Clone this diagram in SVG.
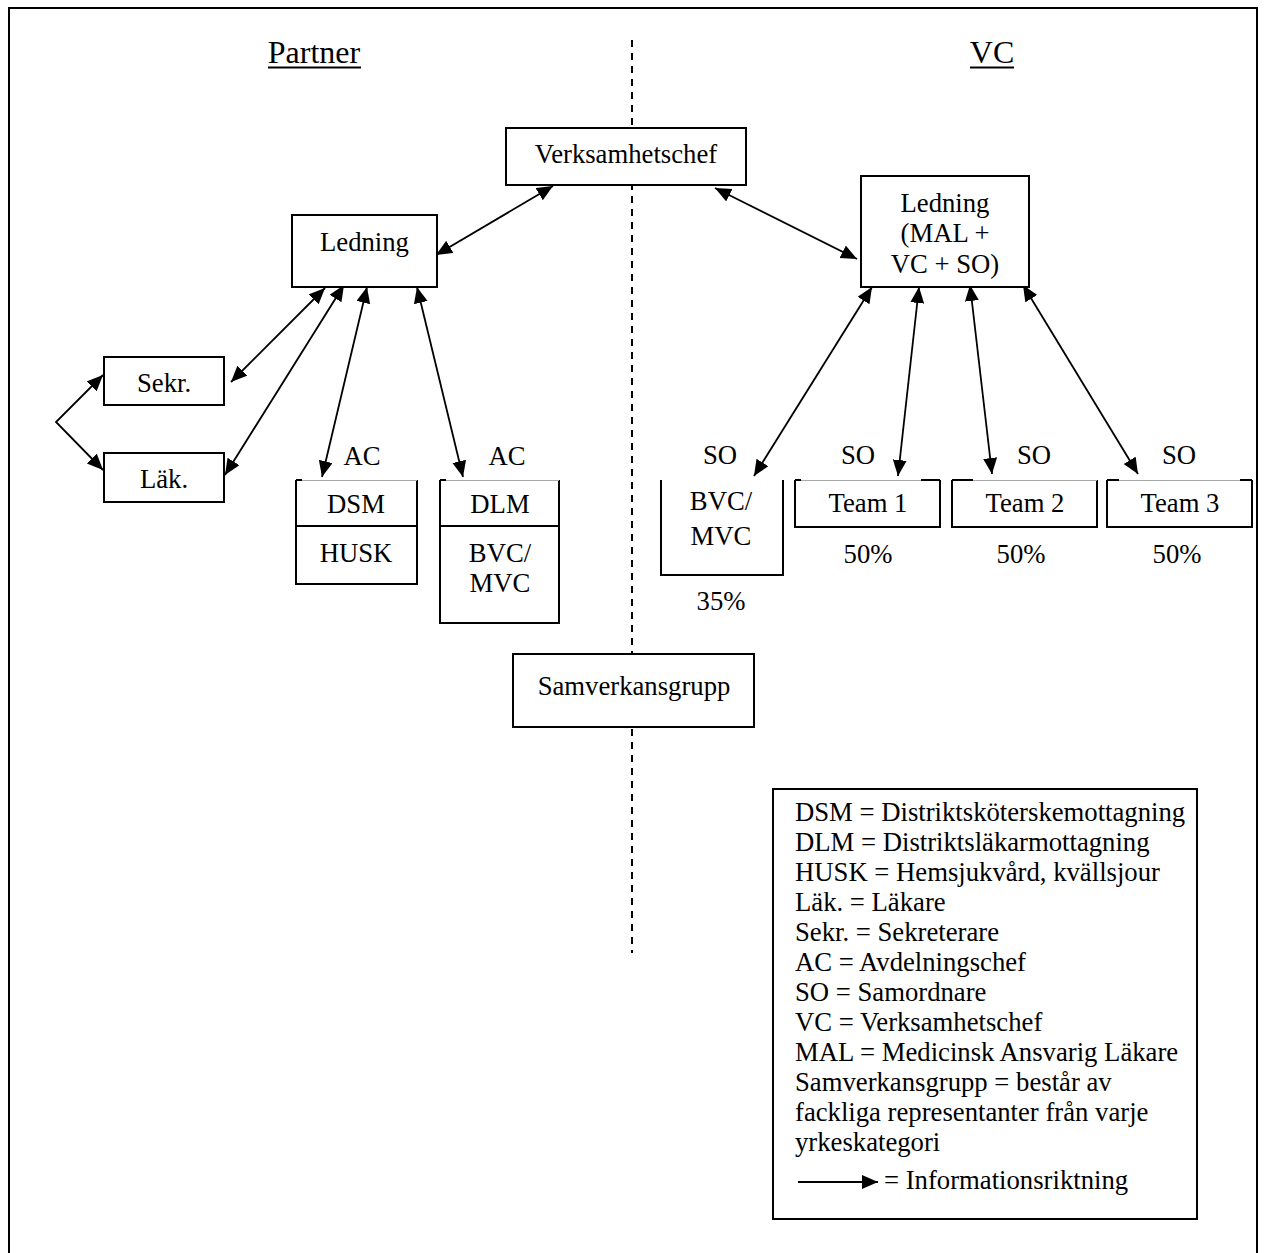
<svg xmlns="http://www.w3.org/2000/svg" width="1265" height="1253" viewBox="0 0 1265 1253">
  <style>
    text { font-family: "Liberation Serif", "Times New Roman", serif; font-size: 26.7px; fill: #000; }
    .title { font-size: 32px; }
    .c { text-anchor: middle; }
    .box { fill: #fff; stroke: #000; stroke-width: 2; }
    .open { fill: #fff; stroke: none; }
    .edge { fill: none; stroke: #000; stroke-width: 2; }
    .faint { fill: none; stroke: #a8a8a8; stroke-width: 1; }
    .link { fill: none; stroke: #000; stroke-width: 1.8; }
  </style>
  <defs>
    <marker id="head" markerUnits="userSpaceOnUse" markerWidth="17" markerHeight="15" refX="16" refY="7" orient="auto-start-reverse">
      <path d="M0,0 L16,7 L0,14 Z" fill="#000"/>
    </marker>
  </defs>

  <rect width="1265" height="1253" fill="#fff"/>

  <!-- outer frame, open at the bottom -->
  <path class="edge" d="M9,1253 V8 H1257 V1253"/>

  <!-- divider between the two sides -->
  <line x1="632" y1="40" x2="632" y2="953" stroke="#000" stroke-width="2" stroke-dasharray="7 6"/>

  <!-- side headings -->
  <g id="heading-partner">
    <text class="title c" x="314" y="63">Partner</text>
    <line x1="268" y1="67.5" x2="361" y2="67.5" stroke="#000" stroke-width="2"/>
  </g>
  <g id="heading-vc">
    <text class="title c" x="992" y="63">VC</text>
    <line x1="970" y1="67.5" x2="1014" y2="67.5" stroke="#000" stroke-width="2"/>
  </g>

  <!-- connectors -->
  <g id="connectors">
    <line class="link" x1="553" y1="186" x2="436" y2="255" marker-start="url(#head)" marker-end="url(#head)"/>
    <line class="link" x1="715" y1="188" x2="857" y2="259" marker-start="url(#head)" marker-end="url(#head)"/>
    <line class="link" x1="325" y1="288" x2="231" y2="382" marker-start="url(#head)" marker-end="url(#head)"/>
    <line class="link" x1="344" y1="285" x2="225" y2="475" marker-start="url(#head)" marker-end="url(#head)"/>
    <line class="link" x1="367" y1="287" x2="322" y2="477" marker-start="url(#head)" marker-end="url(#head)"/>
    <line class="link" x1="417" y1="287" x2="463" y2="477" marker-start="url(#head)" marker-end="url(#head)"/>
    <path class="link" d="M103,375 L56,422 L103,470" marker-start="url(#head)" marker-end="url(#head)"/>
    <line class="link" x1="872" y1="287" x2="754" y2="476" marker-start="url(#head)" marker-end="url(#head)"/>
    <line class="link" x1="919" y1="287" x2="898" y2="476" marker-start="url(#head)" marker-end="url(#head)"/>
    <line class="link" x1="970" y1="285" x2="992" y2="474" marker-start="url(#head)" marker-end="url(#head)"/>
    <line class="link" x1="1023" y1="285" x2="1138" y2="474" marker-start="url(#head)" marker-end="url(#head)"/>
  </g>

  <g id="verksamhetschef">
    <rect class="box" x="506" y="128" width="240" height="57"/>
    <text class="c" x="626" y="163">Verksamhetschef</text>
  </g>

  <g id="ledning-partner">
    <rect class="box" x="292" y="215" width="145" height="72"/>
    <text class="c" x="364.5" y="251">Ledning</text>
  </g>

  <g id="ledning-vc">
    <rect class="box" x="861" y="176" width="168" height="111"/>
    <text class="c" x="945" y="212">Ledning</text>
    <text class="c" x="945" y="242">(MAL +</text>
    <text class="c" x="945" y="273">VC + SO)</text>
  </g>

  <g id="sekr">
    <rect class="box" x="104" y="357" width="120" height="48"/>
    <text class="c" x="164" y="392">Sekr.</text>
  </g>

  <g id="lak">
    <rect class="box" x="104" y="453" width="120" height="49"/>
    <text class="c" x="164" y="488">Läk.</text>
  </g>

  <g id="dsm-husk">
    <text class="c" x="362" y="465">AC</text>
    <rect class="open" x="296" y="480" width="121" height="104"/>
    <path class="edge" d="M296,480 V584 H417 V480 M296,526 H417 M296,480 H302"/>
    <line class="faint" x1="302" y1="480.5" x2="417" y2="480.5"/>
    <text class="c" x="356" y="513">DSM</text>
    <text class="c" x="356" y="562">HUSK</text>
  </g>

  <g id="dlm-bvc">
    <text class="c" x="507" y="465">AC</text>
    <rect class="open" x="440" y="480" width="119" height="143"/>
    <path class="edge" d="M440,480 V623 H559 V480 M440,526 H559 M440,480 H446"/>
    <line class="faint" x1="446" y1="480.5" x2="559" y2="480.5"/>
    <text class="c" x="500" y="513">DLM</text>
    <text class="c" x="500" y="562">BVC/</text>
    <text class="c" x="500" y="592">MVC</text>
  </g>

  <g id="bvc-mvc">
    <text class="c" x="720" y="464">SO</text>
    <rect class="open" x="661" y="480" width="122" height="95"/>
    <path class="edge" d="M661,480 V575 H783 V480"/>
    <text class="c" x="721" y="510">BVC/</text>
    <text class="c" x="721" y="545">MVC</text>
    <text class="c" x="721" y="610">35%</text>
  </g>

  <g id="team-1">
    <text class="c" x="858" y="464">SO</text>
    <rect class="open" x="795" y="480" width="145" height="47"/>
    <path class="edge" d="M795,480 V527 H940 V480 M795,480 H801 M921,480 H940"/>
    <line class="faint" x1="801" y1="480.5" x2="921" y2="480.5"/>
    <text class="c" x="868" y="512">Team 1</text>
    <text class="c" x="868" y="563">50%</text>
  </g>

  <g id="team-2">
    <text class="c" x="1034" y="464">SO</text>
    <rect class="open" x="952" y="480" width="145" height="47"/>
    <path class="edge" d="M952,480 V527 H1097 V480 M952,480 H973"/>
    <line class="faint" x1="973" y1="480.5" x2="1097" y2="480.5"/>
    <text class="c" x="1025" y="512">Team 2</text>
    <text class="c" x="1021" y="563">50%</text>
  </g>

  <g id="team-3">
    <text class="c" x="1179" y="464">SO</text>
    <rect class="open" x="1107" y="480" width="145" height="47"/>
    <path class="edge" d="M1107,480 V527 H1252 V480 M1107,480 H1119 M1240,480 H1252"/>
    <line class="faint" x1="1119" y1="480.5" x2="1240" y2="480.5"/>
    <text class="c" x="1180" y="512">Team 3</text>
    <text class="c" x="1177" y="563">50%</text>
  </g>

  <g id="samverkansgrupp">
    <rect class="box" x="513" y="654" width="241" height="73"/>
    <text class="c" x="634" y="695">Samverkansgrupp</text>
  </g>

  <g id="legend">
    <rect class="box" x="773" y="789" width="424" height="430"/>
    <text x="795" y="821">DSM = Distriktsköterskemottagning</text>
    <text x="795" y="851">DLM = Distriktsläkarmottagning</text>
    <text x="795" y="881">HUSK = Hemsjukvård, kvällsjour</text>
    <text x="795" y="911">Läk. = Läkare</text>
    <text x="795" y="941">Sekr. = Sekreterare</text>
    <text x="795" y="971">AC = Avdelningschef</text>
    <text x="795" y="1001">SO = Samordnare</text>
    <text x="795" y="1031">VC = Verksamhetschef</text>
    <text x="795" y="1061">MAL = Medicinsk Ansvarig Läkare</text>
    <text x="795" y="1091">Samverkansgrupp = består av</text>
    <text x="795" y="1121">fackliga representanter från varje</text>
    <text x="795" y="1151">yrkeskategori</text>
    <line class="link" x1="798" y1="1182" x2="878" y2="1182" marker-end="url(#head)"/>
    <text x="884" y="1189">= Informationsriktning</text>
  </g>
</svg>
